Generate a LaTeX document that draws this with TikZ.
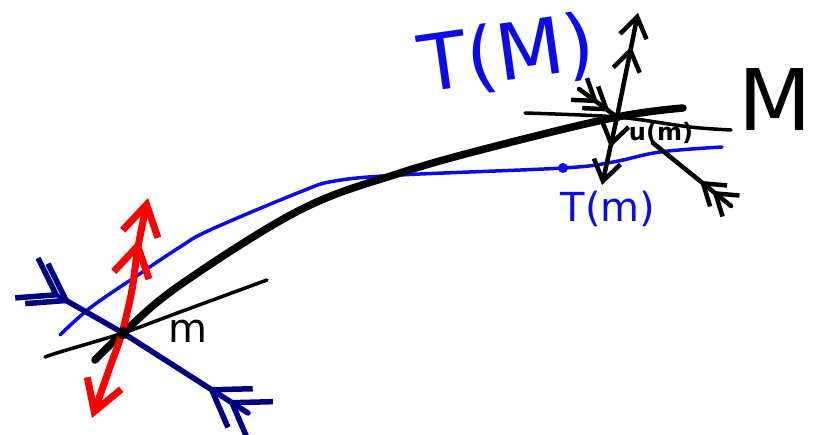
\documentclass[tikz,border=0pt]{standalone}
\usepackage{fontspec}
\setmainfont{DejaVu Sans}
\usetikzlibrary{arrows.meta,decorations.markings}
\definecolor{navyb}{RGB}{0,0,130}
\definecolor{penblue}{RGB}{10,10,235}
\definecolor{penred}{RGB}{250,0,0}
\tikzset{
  navybarb/.tip={Straight Barb[length=34pt,width=46pt]},
  blkbarb/.tip={Straight Barb[length=20pt,width=27pt]},
  redbarb/.tip={Straight Barb[length=30pt,width=36pt]},
  inward/.style n args={3}{postaction={decorate,decoration={markings,
      mark=at position #1 with {\arrow{#3}},
      mark=at position #2 with {\arrow{#3}}}}},
  thickcurve/.style={line width=7.5pt,black},
  thinblk/.style={line width=3.5pt,black},
  blueline/.style={line width=3.5pt,penblue},
  navyline/.style={line width=5.5pt,navyb},
  redline/.style={line width=7pt,penred},
  blkarrow/.style={line width=4.5pt,black},
  lbl/.style={inner sep=0pt},
}
\begin{document}
\begin{tikzpicture}[x=1pt,y=-1pt,line cap=round,line join=round]
\useasboundingbox (0,0) rectangle (826,435);
% points
\coordinate (m) at (123,333);
\coordinate (um) at (617,117);
\coordinate (dbA) at (60,297);
\coordinate (dbB) at (248,413);
\coordinate (ulA) at (579,89);
\coordinate (lrA) at (731,206);
\coordinate (lrB) at (653,143);
\coordinate (upT) at (638,13);
\coordinate (dnB) at (602,185);
\coordinate (bdot) at (563,168);
% blue curve T(M)
\draw[blueline] plot[smooth,tension=0.6] coordinates {(60,335) (90,308) (135,277) (180,247) (210,230) (300,192) (335,181) (400,175) (563,168) (613,162) (660,152) (722,147)};
% tangent line at m
\draw[thinblk] plot[smooth] coordinates {(45,357) (60,352) (123,333) (180,312) (267,280)};
% thick curve M
\draw[thickcurve] plot[smooth,tension=0.6] coordinates {(95,360) (123,333) (180,285) (300,210) (400,173) (500,145) (617,117) (683,108)};
% tangent line at u(m)
\draw[thinblk] plot[smooth] coordinates {(525,113) (617,117) (690,127) (731,130)};
% navy covector
\draw[navyline,inward={0.5pt}{12pt}{navybarb}] (dbA) -- (m);
\draw[navyline,inward={24pt}{48pt}{navybarb}] (dbB) -- (m);
% red vector
\draw[redline,{redbarb}-{redbarb[sep=2pt]redbarb}] plot[smooth] coordinates {(92,418) (110,367) (122,333) (132,290) (138,247) (148,198)};
% black arrows at u(m)
\draw[blkarrow,-{blkbarb[sep=8pt]blkbarb}] (um) -- (upT);
\draw[blkarrow,-{blkbarb[sep=12pt]blkbarb}] (um) -- (dnB);
\draw[blkarrow,inward={24pt}{38pt}{blkbarb}] (ulA) -- (um);
\draw[blkarrow,inward={24pt}{40pt}{blkbarb}] (lrA) -- (lrB);
% dots
\fill (m) circle (6pt);
\fill (um) circle (4.5pt);
\fill[penblue] (bdot) circle (5pt);
% labels
\node[lbl,penblue,font=\fontsize{78}{80}\selectfont,rotate=8] (TM) at (507,56) {T(M)};
\node[lbl,font=\fontsize{85}{85}\selectfont] (Mlab) at (775,100) {M};
\node[lbl,font=\fontsize{40}{40}\selectfont] (mlab) at (188,331) {m};
\node[lbl,penblue,font=\fontsize{40}{40}\selectfont] (Tm) at (608,209) {T(m)};
\node[lbl,font=\bfseries\fontsize{24}{24}\selectfont] (uml) at (661,133) {u(m)};
\end{tikzpicture}
\end{document}
